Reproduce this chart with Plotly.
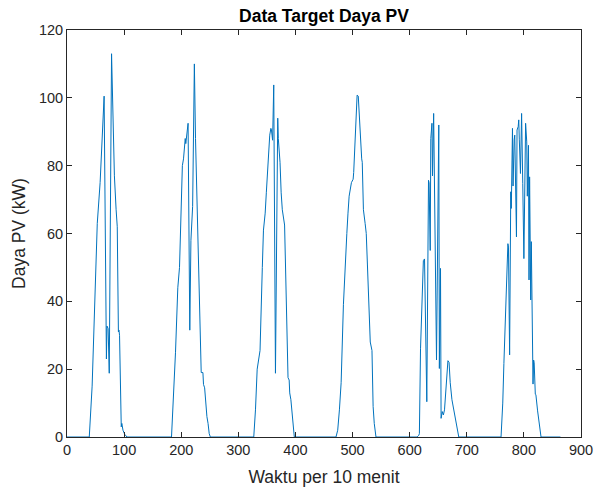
import plotly.graph_objects as go

# PV power readings, one sample per 10 minutes; each day listed as (sample, kW) pairs
day1_t = [0, 39, 44, 48, 52, 53, 58, 62, 65, 69, 70, 72, 74, 78, 80, 83, 86, 88, 90, 91, 92, 95, 96, 98, 101, 105]
day1_p = [0, 0, 15, 37, 58, 63, 75, 88, 100.5, 23, 32.7, 32, 18.8, 113, 95, 77, 67, 62, 31, 31.5, 30, 3, 4, 2, 0.8, 0]

day2_t = [183, 190, 194, 197, 202, 204, 207, 208, 209, 212, 215, 217, 220, 223, 225, 229, 232, 235, 238, 239, 241, 243, 245, 247, 249, 251]
day2_p = [0, 25, 44, 50, 80, 82, 88, 86.5, 88, 92.5, 31.5, 58, 68, 110, 88, 60, 34, 19, 19, 15.5, 14.5, 9, 6, 4, 1, 0]

day3_t = [327, 330, 333, 338, 340, 342, 344, 347, 349, 352, 355, 357, 358, 360, 362, 365, 369, 370, 373, 375, 377, 381, 383, 385, 387, 389, 390, 392, 394, 396, 398]
day3_p = [0, 8, 20, 25.5, 35, 50, 61, 66, 72, 81, 89, 91, 90.5, 87.5, 103.8, 18.8, 94, 88, 81, 72, 67, 62.5, 45, 34.5, 17.5, 16.8, 13, 11, 7, 3, 0]

day4_t = [471, 474, 477, 480, 484, 487, 490, 492, 494, 498, 501, 502, 505, 508, 510, 513, 516, 517, 519, 522, 524, 526, 530, 531, 534, 536, 538, 541]
day4_p = [0, 2, 8, 16, 39, 52, 60, 66, 71, 75, 76, 78, 92, 100.8, 100.5, 90, 82, 81, 67, 63, 60, 51, 30, 28, 25.5, 9, 4, 0]

day5_t = [613, 616, 617, 619, 624, 626, 630, 633, 634, 636, 637, 639, 640, 642, 643, 644, 647, 651, 652, 654, 655, 657, 659, 661, 664, 667, 669, 671, 674, 676, 678, 681, 686]
day5_p = [0, 0.5, 1, 26, 52, 52.5, 10.4, 75.7, 75, 55, 88, 92.5, 77, 95.4, 80, 60, 22.7, 92, 20.2, 49.7, 5.5, 7.5, 6.5, 8, 15, 22.5, 22, 16, 11, 9, 7, 4, 0]

day6_t = [760, 763, 765, 768, 770, 772, 773, 775, 777, 778, 780, 781, 783, 784, 787, 788, 790, 791, 792, 794, 796, 797, 798, 800, 803, 805, 806, 808, 809, 810, 812, 813, 816, 817, 818, 820, 821, 824, 827, 830, 864]
day6_p = [0, 10, 21.7, 35, 45, 57, 56, 24.2, 72.3, 67.4, 91, 74, 87.6, 89, 59, 90.5, 91.5, 93.5, 87.6, 77.7, 95.4, 78, 74.7, 52.6, 92.5, 87, 71, 86, 46.3, 76.7, 40.4, 57.6, 15.6, 22.7, 22, 12.6, 12.5, 7.7, 3, 0, 0]

x_ticks = [0, 100, 200, 300, 400, 500, 600, 700, 800, 900]
y_ticks = [0, 20, 40, 60, 80, 100, 120]

t = day1_t + day2_t + day3_t + day4_t + day5_t + day6_t
p = day1_p + day2_p + day3_p + day4_p + day5_p + day6_p

FONT = "Liberation Sans, Arial, Helvetica"
INK = "#262626"

fig = go.Figure(go.Scatter(x=t, y=p, mode="lines",
                           line=dict(color="#0072BD", width=1)))

axis_common = dict(
    showline=True, linecolor=INK, linewidth=1, mirror="ticks",
    ticks="inside", ticklen=5, tickwidth=1, tickcolor=INK,
    showgrid=False, zeroline=False, automargin=False,
    tickfont=dict(family=FONT, size=14.5, color=INK),
)

fig.update_xaxes(range=[0, 900], tickvals=x_ticks, **axis_common,
                 title=dict(text="Waktu per 10 menit", standoff=13,
                            font=dict(family=FONT, size=17.5, color=INK)))
fig.update_yaxes(range=[0, 120], tickvals=y_ticks, **axis_common,
                 title=dict(text="Daya PV (kW)", standoff=8,
                            font=dict(family=FONT, size=17.5, color=INK)))

fig.update_layout(
    template="none",
    width=594, height=493,
    margin=dict(l=67, r=13, t=30, b=56),
    paper_bgcolor="white", plot_bgcolor="white",
    showlegend=False,
    title=dict(text="<b>Data Target Daya PV</b>", xref="paper", x=0.5, xanchor="center",
               yref="container", y=1 - 16 / 493, yanchor="middle",
               font=dict(family=FONT, size=17.5, color="black")),
)

fig.write_html("out.html")
